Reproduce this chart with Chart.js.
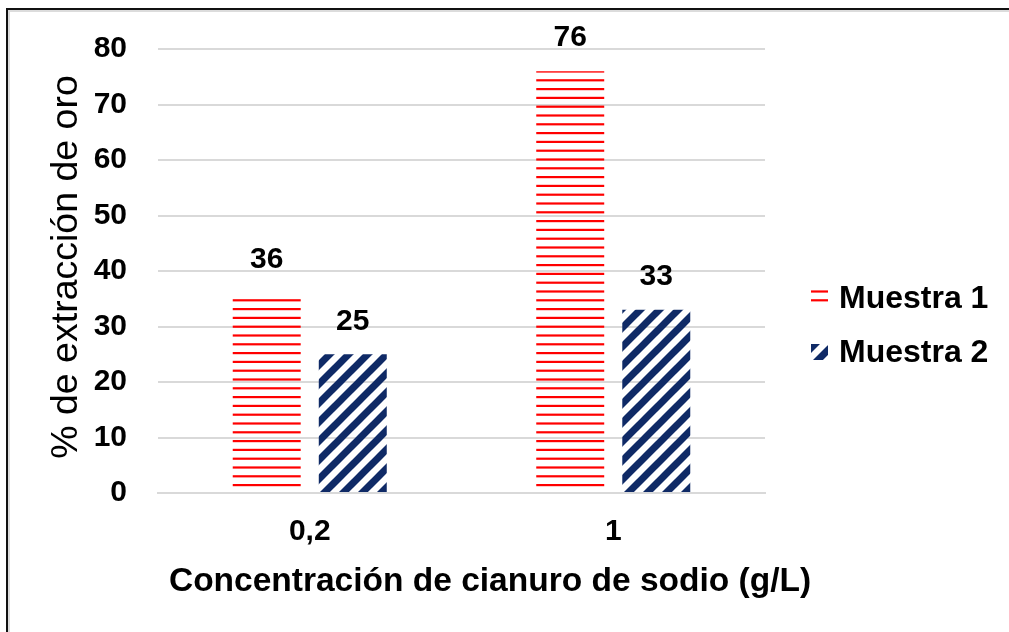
<!DOCTYPE html>
<html>
<head>
<meta charset="utf-8">
<script src="https://cdn.jsdelivr.net/npm/chart.js@4.4.1/dist/chart.umd.min.js"></script>
<style>
  html, body { margin: 0; padding: 0; background: #fff; }
  #wrap { position: relative; width: 1009px; height: 632px; overflow: hidden; background: #fff; }
  #chart { position: absolute; left: 0; top: 0; }
  .edge { position: absolute; right: -20px; bottom: -20px; }
  #edgeDark { left: 6px; top: 8px; border-left: 2px solid #111; border-top: 2px solid #111; }
  #edgeSoft { left: 8px; top: 10px; border-left: 2px solid #dcdcdc; border-top: 2px solid #dcdcdc; }
</style>
</head>
<body>
<div id="wrap">
  <canvas id="chart" width="1009" height="632"></canvas>
  <div class="edge" id="edgeDark"></div>
  <div class="edge" id="edgeSoft"></div>
</div>
<script>
// Sodium cyanide concentration (g/L) and gold extraction (%) per sample
const categories = ['0,2', '1'];
const muestra1 = [36, 76];
const muestra2 = [25, 33];
const seriesNames = ['Muestra 1', 'Muestra 2'];
const yTitle = '% de extracción de oro';
const xTitle = 'Concentración de cianuro de sodio (g/L)';

const FONT = '"Liberation Sans", Arial, sans-serif';
const RED = '#ff0000';
const NAVY = '#0f2a66';

// Horizontal red line fill
function horizontalStripes() {
  const c = document.createElement('canvas');
  c.width = 8; c.height = 44;
  const g = c.getContext('2d');
  g.fillStyle = RED;
  for (let i = 0; i < 5; i++) g.fillRect(0, i * 8.8, 8, 2.2);
  return g.createPattern(c, 'repeat');
}

// Wide diagonal navy fill
function diagonalStripes() {
  const s = 19;
  const c = document.createElement('canvas');
  c.width = s; c.height = s;
  const g = c.getContext('2d');
  g.strokeStyle = NAVY;
  g.lineWidth = 7;
  for (const k of [0, s, 2 * s]) {
    g.beginPath();
    g.moveTo(k + s, -s);
    g.lineTo(k - 2 * s, 2 * s);
    g.stroke();
  }
  return g.createPattern(c, 'repeat');
}

const fills = [horizontalStripes(), diagonalStripes()];

const valueLabels = {
  id: 'valueLabels',
  afterDatasetsDraw(chart) {
    const ctx = chart.ctx;
    ctx.save();
    ctx.font = 'bold 30px ' + FONT;
    ctx.fillStyle = '#000';
    ctx.textAlign = 'center';
    ctx.textBaseline = 'middle';
    chart.data.datasets.forEach((ds, i) => {
      chart.getDatasetMeta(i).data.forEach((bar, j) => {
        ctx.fillText(String(ds.data[j]), bar.x, bar.y - 33);
      });
    });
    ctx.restore();
  }
};

const sideLegend = {
  id: 'sideLegend',
  afterDraw(chart) {
    const ctx = chart.ctx;
    ctx.save();
    ctx.font = 'bold 32px ' + FONT;
    ctx.textBaseline = 'middle';
    ctx.textAlign = 'left';
    const rows = [298, 352];
    chart.data.datasets.forEach((ds, i) => {
      const cy = rows[i];
      ctx.fillStyle = ds.backgroundColor;
      ctx.fillRect(811, cy - 8, 17, 16);
      ctx.fillStyle = '#000';
      ctx.fillText(ds.label, 839, cy + 1);
    });
    ctx.restore();
  }
};

const axisTitles = {
  id: 'axisTitles',
  afterDraw(chart) {
    const ctx = chart.ctx;
    ctx.save();
    ctx.fillStyle = '#000';
    ctx.textAlign = 'center';
    ctx.textBaseline = 'middle';
    ctx.font = 'bold 33.5px ' + FONT;
    ctx.fillText(xTitle, 490, 582);
    ctx.translate(67, 267);
    ctx.rotate(-Math.PI / 2);
    ctx.font = 'normal 37.5px ' + FONT;
    ctx.fillText(yTitle, 0, 0);
    ctx.restore();
  }
};

new Chart(document.getElementById('chart'), {
  type: 'bar',
  data: {
    labels: categories,
    datasets: [
      { label: seriesNames[0], data: muestra1, backgroundColor: fills[0], borderWidth: 0 },
      { label: seriesNames[1], data: muestra2, backgroundColor: fills[1], borderWidth: 0 }
    ]
  },
  options: {
    responsive: false,
    animation: false,
    events: [],
    layout: { padding: { left: 0, top: 46, right: 244, bottom: 0 } },
    datasets: { bar: { categoryPercentage: 0.567, barPercentage: 0.79 } },
    plugins: { legend: { display: false }, tooltip: { enabled: false }, title: { display: false } },
    scales: {
      x: {
        grid: { display: false, drawTicks: false },
        border: { display: true, color: '#d9d9d9', width: 2 },
        ticks: { color: '#000', font: { family: FONT, size: 30, weight: 'bold' }, padding: 21 },
        afterFit(s) { s.height = 139; }
      },
      y: {
        min: 0, max: 80,
        grid: { color: '#d9d9d9', lineWidth: 2, drawTicks: false },
        border: { display: false },
        ticks: { stepSize: 10, color: '#000', font: { family: FONT, size: 30, weight: 'bold' }, padding: 31 },
        afterFit(s) { s.width = 158; }
      }
    }
  },
  plugins: [valueLabels, sideLegend, axisTitles]
});
</script>
</body>
</html>
